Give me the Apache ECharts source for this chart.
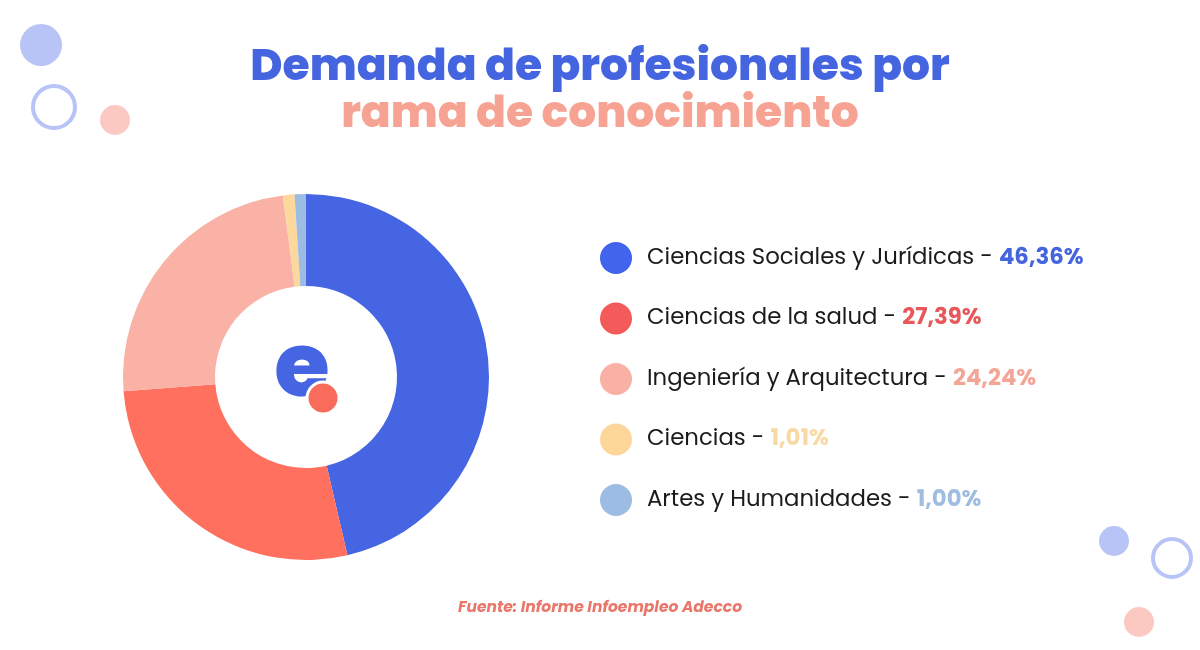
<!DOCTYPE html>
<html><head><meta charset="utf-8">
<script src="https://cdn.jsdelivr.net/npm/echarts@6/dist/echarts.min.js"></script>
<style>html,body{margin:0;padding:0;background:#fff}#c{width:1200px;height:650px}</style>
</head><body><div id="c"></div>
<script>
const categories = ['Ciencias Sociales y Jurídicas','Ciencias de la salud','Ingeniería y Arquitectura','Ciencias','Artes y Humanidades'];
const values = [46.36, 27.39, 24.24, 1.01, 1.00];
const valueLabels = ['46,36%','27,39%','24,24%','1,01%','1,00%'];
const sliceColors = ['#4565E3','#FF705F','#F9B2A5','#FDD89D','#9CBCE3'];
const legendColors = ['#4263EB','#F35A5A','#F9B0A5','#FDD79A','#9DBCE4'];
const valueColors = ['#4565DD','#E8585A','#F3A597','#F9D9A3','#9FBDE0'];

const chart = echarts.init(document.getElementById('c'));
const FONT = 'Poppins, Inter, sans-serif';
const rich = { n: { fontFamily: FONT, fontSize: 22.8, color: '#1b1b1b' } };
valueColors.forEach((c, i) => { rich['v' + i] = { fontFamily: FONT, fontSize: 22.8, fontWeight: 'bold', color: c }; });

chart.setOption({
  backgroundColor: '#fff',
  animation: false,
  title: [{
    text: 'Demanda de profesionales por',
    left: 'center', top: 42,
    textStyle: { fontFamily: FONT, fontSize: 44, fontWeight: 800, color: '#4565E0' }
  }, {
    text: 'rama de conocimiento',
    left: 'center', top: 89,
    textStyle: { fontFamily: FONT, fontSize: 44, fontWeight: 800, color: '#F7A393' }
  }, {
    text: 'Fuente: Informe Infoempleo Adecco',
    left: 'center', top: 595,
    textStyle: { fontFamily: FONT, fontSize: 15.5, fontWeight: 'bold', fontStyle: 'italic', color: '#E8776A' }
  }],
  legend: {
    orient: 'vertical',
    left: 595, top: 237,
    icon: 'circle',
    itemWidth: 32, itemHeight: 32,
    itemGap: 28.5,
    selectedMode: false,
    data: categories.map((n, i) => ({ name: n, itemStyle: { color: legendColors[i] } })),
    formatter: name => {
      const i = categories.indexOf(name);
      return '{n|' + name + ' - }{v' + i + '|' + valueLabels[i] + '}';
    },
    textStyle: { rich: rich, padding: [0, 0, 0, 10] }
  },
  series: [{
    type: 'pie',
    center: [306, 377],
    radius: [91, 183],
    startAngle: 90,
    clockwise: true,
    label: { show: false },
    labelLine: { show: false },
    emphasis: { disabled: true },
    itemStyle: { borderWidth: 0 },
    data: categories.map((n, i) => ({ name: n, value: values[i], itemStyle: { color: sliceColors[i] } }))
  }],
  graphic: [
    { type: 'circle', shape: { cx: 41, cy: 45, r: 21 }, style: { fill: '#B8C4F5' } },
    { type: 'circle', shape: { cx: 54, cy: 107, r: 21 }, style: { fill: 'none', stroke: '#B8C4F5', lineWidth: 4 } },
    { type: 'circle', shape: { cx: 115, cy: 120, r: 15 }, style: { fill: '#FCC9C2' } },
    { type: 'circle', shape: { cx: 1114, cy: 541, r: 15 }, style: { fill: '#B8C4F5' } },
    { type: 'circle', shape: { cx: 1172, cy: 558, r: 19 }, style: { fill: 'none', stroke: '#B8C4F5', lineWidth: 4 } },
    { type: 'circle', shape: { cx: 1139, cy: 622, r: 15 }, style: { fill: '#FCC9C2' } },
    { type: 'text', x: 302, y: 373, style: { text: 'e', fontFamily: FONT, fontSize: 90, fontWeight: 800, fill: '#4565E3', align: 'center', verticalAlign: 'middle' } },
    { type: 'circle', shape: { cx: 323, cy: 398, r: 16 }, style: { fill: '#F96B5A', stroke: '#fff', lineWidth: 3 } }
  ]
});
</script></body></html>
